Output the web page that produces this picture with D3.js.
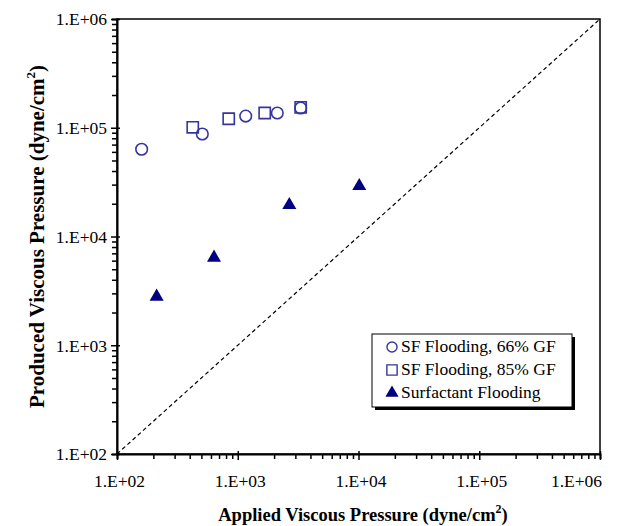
<!DOCTYPE html>
<html><head><meta charset="utf-8">
<script src="https://cdn.jsdelivr.net/npm/d3@7"></script>
<style>body{margin:0;background:#fff}svg{display:block}text{font-family:"Liberation Serif","Times New Roman",serif}</style>
</head><body><svg id="c" width="626" height="526"></svg>
<script>
const tickValues = [1e2, 1e3, 1e4, 1e5, 1e6];
const tickLabels = ["1.E+02", "1.E+03", "1.E+04", "1.E+05", "1.E+06"];
const seriesNames = ["SF Flooding, 66% GF", "SF Flooding, 85% GF", "Surfactant Flooding"];
const sf66Applied = [160, 509, 1164, 2126, 3320];
const sf66Produced = [63400, 87600, 128000, 136700, 152000];
const sf85Applied = [424, 842, 1672, 3320];
const sf85Produced = [101000, 121000, 136700, 154000];
const surfApplied = [213, 636, 2673, 10150];
const surfProduced = [2795, 6383, 19480, 29130];
const unityLine = [1e2, 1e6];

const svg = d3.select("#c");
const L = 117, R = 600, T = 19, B = 454;
const x = d3.scaleLog().domain([1e2, 1e6]).range([L, R]);
const y = d3.scaleLog().domain([1e2, 1e6]).range([B, T]);
const minor = [];
for (let d = 2; d < 6; d++) for (let k = 1; k < 10; k++) minor.push(k * Math.pow(10, d));
minor.push(1e6);

// frame
svg.append("rect").attr("x", L).attr("y", T).attr("width", R - L).attr("height", B - T)
  .attr("fill", "none").attr("stroke", "#000").attr("stroke-width", 1.5);

// unity line
svg.append("line").attr("x1", x(unityLine[0])).attr("y1", y(unityLine[0]))
  .attr("x2", x(unityLine[1])).attr("y2", y(unityLine[1]))
  .attr("stroke", "#000").attr("stroke-width", 1.2).attr("stroke-dasharray", "4,3");

// axes
const fmt = v => tickLabels[tickValues.indexOf(v)] || "";
const xAxis = d3.axisBottom(x).tickValues(minor).tickSize(5).tickFormat(v => (tickValues.includes(v) ? fmt(v) : ""));
const gx = svg.append("g").attr("transform", `translate(0,${B})`).call(xAxis);
const yAxis = d3.axisLeft(y).tickValues(minor).tickSize(5).tickFormat(v => (tickValues.includes(v) ? fmt(v) : ""));
const gy = svg.append("g").attr("transform", `translate(${L},0)`).call(yAxis);
[gx, gy].forEach(g => {
  g.attr("font-family", null).attr("font-size", null);
  g.select(".domain").attr("stroke", "#000").attr("stroke-width", 2);
  g.selectAll(".tick line").attr("stroke", "#000").attr("stroke-width", 1.5);
  g.selectAll(".tick text").attr("font-size", 17.5).attr("fill", "#000");
});
gx.selectAll(".tick line").filter(d => tickValues.includes(d)).attr("y1", -3).attr("y2", 6);
gy.selectAll(".tick line").filter(d => tickValues.includes(d)).attr("x1", 3).attr("x2", -6);
gx.selectAll(".tick text").attr("y", 0).attr("dy", 33).attr("dx", d => (d === 1e6 ? -24 : 2));
gy.selectAll(".tick text").attr("x", -10).attr("dy", "0.33em");

// titles
const xt = svg.append("text").attr("x", 363).attr("y", 521).attr("text-anchor", "middle")
  .attr("font-size", 18.5).attr("font-weight", "bold");
xt.append("tspan").text("Applied Viscous Pressure (dyne/cm");
xt.append("tspan").text("2").attr("font-size", 12).attr("dy", -8);
xt.append("tspan").text(")").attr("dy", 8);
const yt = svg.append("text").attr("transform", `translate(44,${(T + B) / 2}) rotate(-90)`)
  .attr("text-anchor", "middle").attr("font-size", 21).attr("font-weight", "bold");
yt.append("tspan").text("Produced Viscous Pressure (dyne/cm");
yt.append("tspan").text("2").attr("font-size", 13).attr("dy", -9);
yt.append("tspan").text(")").attr("dy", 9);

// markers
const openColor = "#35359c", triColor = "#000080";
const circ = d3.symbol().type(d3.symbolCircle).size(105);
const sq = d3.symbol().type(d3.symbolSquare).size(125);
const tri = d3.symbol().type(d3.symbolTriangle).size(85);
function drawSeries(xs, ys, sym, fill, stroke) {
  svg.append("g").selectAll("path").data(xs).join("path")
    .attr("d", sym).attr("transform", (d, i) => `translate(${x(d)},${y(ys[i])})`)
    .attr("fill", fill).attr("stroke", stroke).attr("stroke-width", 1.6);
}
drawSeries(sf85Applied, sf85Produced, sq, "none", openColor);
drawSeries(sf66Applied, sf66Produced, circ, "none", openColor);
drawSeries(surfApplied, surfProduced, tri, triColor, "none");

// legend
const lg = svg.append("g").attr("transform", "translate(372,334)");
lg.append("rect").attr("x", 3).attr("y", 3).attr("width", 200).attr("height", 73).attr("fill", "#000");
lg.append("rect").attr("x", 0).attr("y", 0).attr("width", 200).attr("height", 73).attr("fill", "#fff")
  .attr("stroke", "#000").attr("stroke-width", 1);
const lsyms = [
  d3.symbol().type(d3.symbolCircle).size(80),
  d3.symbol().type(d3.symbolSquare).size(105),
  d3.symbol().type(d3.symbolTriangle).size(75)
];
seriesNames.forEach((n, i) => {
  const base = 18 + i * 23;
  lg.append("path").attr("d", lsyms[i]).attr("transform", `translate(20,${base - 5})`)
    .attr("fill", i === 2 ? triColor : "none").attr("stroke", i === 2 ? "none" : openColor).attr("stroke-width", 1.4);
  lg.append("text").attr("x", 29).attr("y", base).attr("font-size", 17.5).text(n);
});
</script></body></html>
